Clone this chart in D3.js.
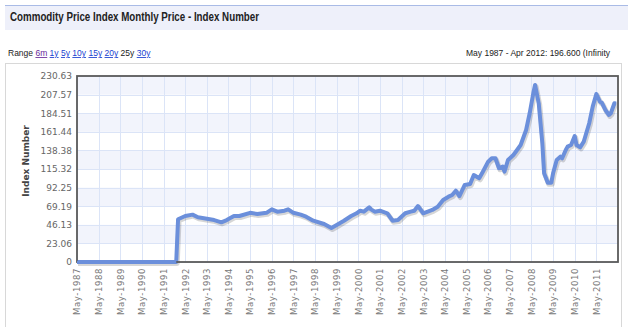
<!DOCTYPE html>
<html><head><meta charset="utf-8">
<script src="https://cdn.jsdelivr.net/npm/d3@7"></script>
<style>body{margin:0;background:#fff}svg{display:block}</style>
</head><body>
<script>
const title = "Commodity Price Index Monthly Price - Index Number";
const yAxisTitle = "Index Number";
const rangeLinks = ["6m","1y","5y","10y","15y","20y","25y","30y"];
const rangeInfo = "May 1987 - Apr 2012: 196.600 (Infinity";
const yTicks = [0, 23.06, 46.13, 69.19, 92.25, 115.32, 138.38, 161.44, 184.51, 207.57, 230.63];
const xTickYears = d3.range(1987, 2012);
const months = ["1987-05","1991-12","1992-01","1992-05","1992-09","1992-12","1993-05","1993-09","1994-01","1994-04","1994-08","1994-11","1995-05","1995-09","1996-02","1996-05","1996-08","1996-12","1997-02","1997-05","1997-09","1997-12","1998-04","1998-10","1999-02","1999-05","1999-09","2000-01","2000-04","2000-06","2000-08","2000-11","2000-12","2001-02","2001-05","2001-09","2001-12","2002-03","2002-07","2002-10","2002-12","2003-02","2003-05","2003-10","2004-01","2004-04","2004-07","2004-09","2004-11","2005-01","2005-04","2005-07","2005-09","2005-12","2006-02","2006-05","2006-07","2006-09","2006-11","2007-01","2007-02","2007-04","2007-07","2007-09","2007-11","2008-01","2008-02","2008-04","2008-06","2008-07","2008-09","2008-11","2008-12","2009-02","2009-04","2009-05","2009-07","2009-09","2009-10","2009-12","2010-01","2010-03","2010-05","2010-06","2010-08","2010-10","2011-01","2011-03","2011-05","2011-07","2011-08","2011-10","2011-12","2012-01","2012-03","2012-04"];
const values = [0,0,53,57,58.7,55.4,53.7,52,49.2,52,57,57,61,59.5,61,65.3,62.4,63.6,65.3,61,58.7,56.2,51.2,47.1,42.2,45.9,51.2,57,60.4,63.6,62.4,67.8,65.3,62.4,63.6,60.4,51.2,52,60.4,62.4,63.6,69.4,60.4,64.5,68.6,76.9,81,83.1,88.4,81.8,95.5,96.7,107.9,103.8,112,124.4,128.6,128.6,116.2,118.2,112,126.5,132.7,138.9,145.1,157.5,163.7,184.4,209.2,219.5,196.8,147.2,110,98.3,98.3,110,126.5,130.6,128.6,138.9,143,145.1,156.2,145.1,142.2,149.2,172,192.6,208.3,198.8,197.6,188.5,182.3,184.4,196.8,196.6];

const W = 628, H = 327;
const parse = d3.timeParse("%Y-%m");
const data = months.map((m, i) => ({d: parse(m), v: values[i]}));

const svg = d3.select("body").append("svg").attr("width", W).attr("height", H)
  .style("font-family", "'DejaVu Sans', Verdana, sans-serif");

// header
svg.append("rect").attr("x", 5).attr("y", 5).attr("width", W - 5).attr("height", 25).attr("fill", "#eef0fa");
svg.append("line").attr("x1", 5).attr("x2", W).attr("y1", 5.5).attr("y2", 5.5).attr("stroke", "#a9bbe6").attr("stroke-width", 1);
svg.append("text").attr("x", 10).attr("y", 21).text(title)
  .style("font-family", "'Liberation Sans', Arial, sans-serif").attr("font-weight", "bold").attr("font-size", 12.5)
  .attr("textLength", 249).attr("lengthAdjust", "spacingAndGlyphs").attr("fill", "#222");

// range row
const rr = svg.append("text").attr("x", 8).attr("y", 56).attr("font-size", 8.5).attr("fill", "#222")
  .style("font-family", "'Liberation Sans', Arial, sans-serif");
rr.append("tspan").text("Range ");
rangeLinks.forEach((r, i) => {
  const t = rr.append("tspan").text(r);
  if (r === "25y") t.attr("fill", "#222");
  else t.attr("fill", i === 0 ? "#6a2a9a" : "#1a3fd0").attr("text-decoration", "underline");
  if (i < rangeLinks.length - 1) rr.append("tspan").text(" ");
});
svg.append("text").attr("x", 466).attr("y", 56).attr("font-size", 8.5).attr("fill", "#222")
  .style("font-family", "'Liberation Sans', Arial, sans-serif").text(rangeInfo);

// outer box
svg.append("rect").attr("x", 5.5).attr("y", 63.5).attr("width", 616).attr("height", 300)
  .attr("fill", "none").attr("stroke", "#d8d8d8");

const L = 77, R = 618, T = 76, B = 262;
const x = d3.scaleTime().domain([parse("1987-05"), parse("2012-05")]).range([L, R]);
const y = d3.scaleLinear().domain([0, 230.63]).range([B, T]);

// bands
for (let i = 0; i < yTicks.length - 1; i++) {
  if (i % 2 === 1) {
    svg.append("rect").attr("x", L).attr("width", R - L)
      .attr("y", y(yTicks[i + 1])).attr("height", y(yTicks[i]) - y(yTicks[i + 1])).attr("fill", "#f2f4fc");
  }
}
// grid
svg.append("g").selectAll("line").data(yTicks).join("line")
  .attr("x1", L).attr("x2", R).attr("y1", d => Math.round(y(d)) + 0.5).attr("y2", d => Math.round(y(d)) + 0.5)
  .attr("stroke", "#dbe4f7");
const xt = xTickYears.map(yy => new Date(yy, 4, 1));
svg.append("g").selectAll("line").data(xt).join("line")
  .attr("x1", d => Math.round(x(d)) + 0.5).attr("x2", d => Math.round(x(d)) + 0.5).attr("y1", T).attr("y2", B)
  .attr("stroke", "#dbe4f7");

// y axis labels
const yAxis = d3.axisLeft(y).tickValues(yTicks).tickSize(0).tickPadding(4).tickFormat(d => d === 0 ? "0" : d3.format(".2f")(d));
const ga = svg.append("g").attr("transform", `translate(${L - 1},0)`).call(yAxis);
ga.select(".domain").remove();
ga.selectAll("text").attr("font-size", 9).attr("fill", "#666").style("font-family", "'DejaVu Sans', Verdana, sans-serif");

// x axis labels
const xAxis = d3.axisBottom(x).tickValues(xt).tickSize(0).tickPadding(0).tickFormat(d3.timeFormat("%b-%Y"));
const gx = svg.append("g").attr("transform", `translate(0,${B})`).call(xAxis);
gx.select(".domain").remove();
gx.selectAll("text").attr("font-size", 8.5).attr("fill", "#777")
  .attr("transform", "rotate(-90)").attr("text-anchor", "end").attr("x", -6).attr("y", 0).attr("dy", "0.33em")
  .attr("letter-spacing", 0.6)
  .style("font-family", "'DejaVu Sans', Verdana, sans-serif");

// axis title
svg.append("text").attr("transform", `translate(29,${(T + B) / 2 - 8}) rotate(-90)`).attr("text-anchor", "middle")
  .attr("font-size", 9).attr("font-weight", "bold").attr("fill", "#444").text(yAxisTitle);

// line
const line = d3.line().x(d => x(d.d)).y(d => y(d.v));
svg.append("path").datum(data).attr("d", line).attr("fill", "none")
  .attr("stroke", "rgba(0,0,0,0.16)").attr("stroke-width", 5).attr("stroke-linejoin", "round")
  .attr("transform", "translate(1,1.5)");
svg.append("path").datum(data).attr("d", line).attr("fill", "none")
  .attr("stroke", "#6b8fdb").attr("stroke-width", 4).attr("stroke-linejoin", "round");

// frame
svg.append("rect").attr("x", L).attr("y", T).attr("width", R - L).attr("height", B - T)
  .attr("fill", "none").attr("stroke", "#5a5a5a").attr("stroke-width", 1.8);
// blue baseline where value is 0
svg.append("path").datum(data.slice(0, 2)).attr("d", line).attr("fill", "none")
  .attr("stroke", "#6b8fdb").attr("stroke-width", 2.5);
</script>
</body></html>
